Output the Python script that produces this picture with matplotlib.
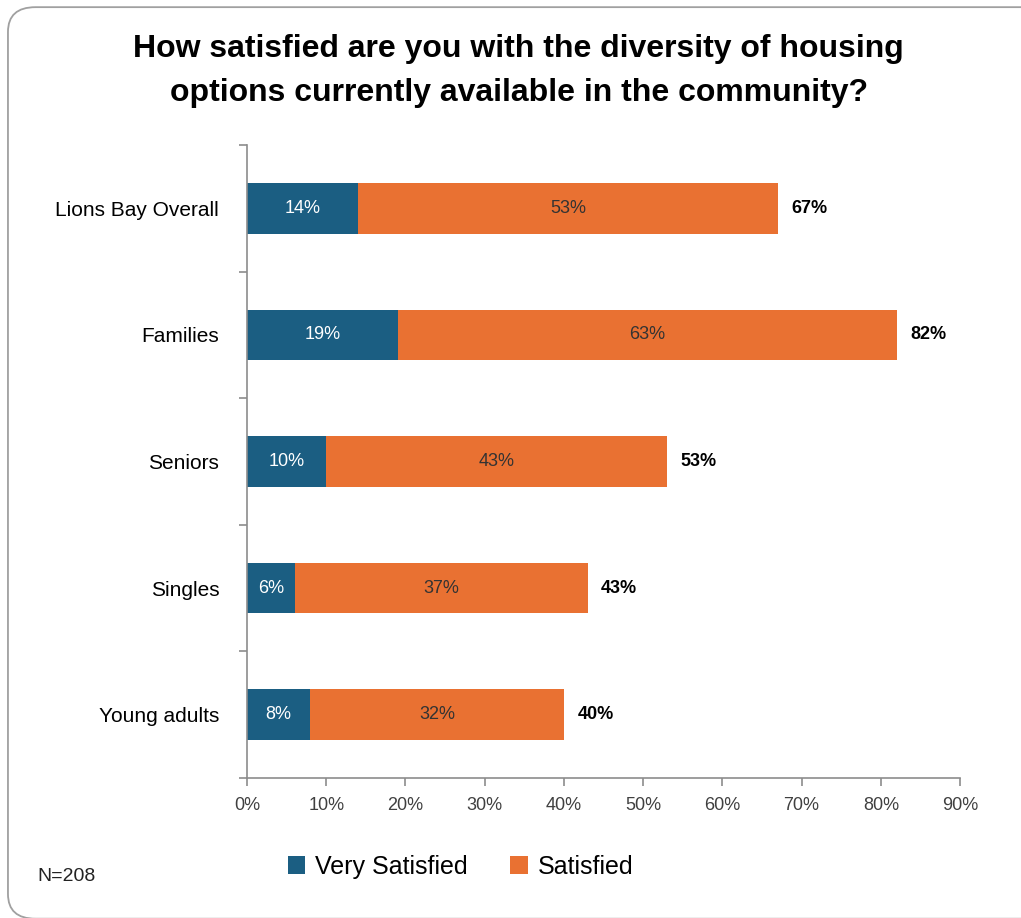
import matplotlib.pyplot as plt
from matplotlib.patches import FancyBboxPatch
from matplotlib import font_manager

# data #
groups = ['Lions Bay Overall', 'Families', 'Seniors', 'Singles', 'Young adults']
very_satisfied = [14, 19, 10, 6, 8]
satisfied = [53, 63, 43, 37, 32]
xticks = [0, 10, 20, 30, 40, 50, 60, 70, 80, 90]

blue = '#1b5e82'
orange = '#e97132'
grey = '#8c8c8c'

names = {f.name for f in font_manager.fontManager.ttflist}
narrow = 'Liberation Sans Narrow' if 'Liberation Sans Narrow' in names else 'Liberation Sans'
plt.rcParams['font.family'] = [narrow, 'DejaVu Sans']

fig = plt.figure(figsize=(10.21, 9.18), dpi=100)
ax = fig.add_axes([0.2419, 0.1525, 0.6984, 0.6895])

# outer frame #
frame = FancyBboxPatch((0.0078, -0.0008), 1.2, 0.993, boxstyle='round,pad=0,rounding_size=0.027',
                       transform=fig.transFigure, fill=False, edgecolor='#a0a0a0', lw=1.3,
                       clip_on=False)
fig.patches.append(frame)

y = list(range(len(groups)))
ax.barh(y, very_satisfied, height=0.4, color=blue)
ax.barh(y, satisfied, left=very_satisfied, height=0.4, color=orange)

for i in y:
    v, s = very_satisfied[i], satisfied[i]
    ax.text(v / 2, i, '{}%'.format(v), ha='center', va='center', color='white', fontsize=13)
    ax.text(v + s / 2, i, '{}%'.format(s), ha='center', va='center', color='#333333', fontsize=13)
    ax.text(v + s + 1.7, i, '{}%'.format(v + s), ha='left', va='center', color='black',
            fontsize=13, fontweight='bold')

ax.set_ylim(len(groups) - 0.5, -0.5)
ax.set_xlim(0, 90)
ax.set_yticks(y)
ax.set_yticklabels(groups, fontsize=15)
ax.set_yticks([i - 0.5 for i in range(len(groups) + 1)], minor=True)
ax.tick_params(axis='y', which='major', length=0, pad=20)
ax.tick_params(axis='y', which='minor', length=6, color=grey, width=1.2)
ax.set_xticks(xticks)
ax.set_xticklabels(['{}%'.format(t) for t in xticks], fontsize=13, color='#404040')
ax.tick_params(axis='x', length=6, color=grey, width=1.2, pad=8)
for side in ['top', 'right']:
    ax.spines[side].set_visible(False)
for side in ['left', 'bottom']:
    ax.spines[side].set_color(grey)
    ax.spines[side].set_linewidth(1.2)

fig.text(0.508, 0.963, 'How satisfied are you with the diversity of housing\noptions currently available in the community?',
         ha='center', va='top', fontsize=23, fontweight='bold', linespacing=1.6)

ax.legend(['Very Satisfied', 'Satisfied'], loc='center', bbox_to_anchor=(0.451, 0.056),
          bbox_transform=fig.transFigure, ncol=2, frameon=False, fontsize=18,
          handlelength=0.7, handleheight=0.7, handletextpad=0.4, columnspacing=1.7)
fig.text(0.037, 0.0447, 'N=208', fontsize=14, color='#222222', va='center')

plt.savefig('out.png', dpi=100)
